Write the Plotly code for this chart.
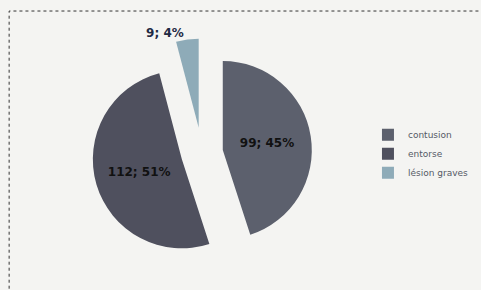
import plotly.graph_objects as go

categories = ["contusion", "entorse", "lésion graves"]
values = [99, 112, 9]
colors = ["#5c606d", "#4f505e", "#8eabb8"]

fig = go.Figure(go.Pie(
    labels=categories,
    values=values,
    sort=False,
    direction="clockwise",
    rotation=0,
    pull=[0.236, 0.236, 0.29],
    marker=dict(colors=colors, line=dict(width=0)),
    texttemplate="<b>%{value}; %{percent:.0%}</b>",
    textposition=["inside", "inside", "outside"],
    insidetextorientation="horizontal",
    textfont=dict(family="DejaVu Sans", size=12, color=["#111111", "#111111", "#1f2a44"]),
    domain=dict(x=[0.181, 0.659], y=[0.075, 0.867]),
    automargin=False,
))

fig.update_layout(
    width=481, height=290,
    margin=dict(l=0, r=0, t=0, b=0, autoexpand=False),
    paper_bgcolor="#f4f4f2",
    plot_bgcolor="#f4f4f2",
    font=dict(family="DejaVu Sans"),
    legend=dict(x=0.765, y=0.47, yanchor="middle", xanchor="left",
                font=dict(size=9, color="#555a66"), bgcolor="rgba(0,0,0,0)",
                itemwidth=30, tracegroupgap=2),
    shapes=[dict(type="rect", xref="paper", yref="paper", x0=0.019, x1=1.05, y0=-0.05, y1=0.962,
                 line=dict(color="#333333", width=1, dash="dot"))],
)

fig.write_html("out.html", config={"displayModeBar": False},
               post_script="document.body.style.margin='0';")
